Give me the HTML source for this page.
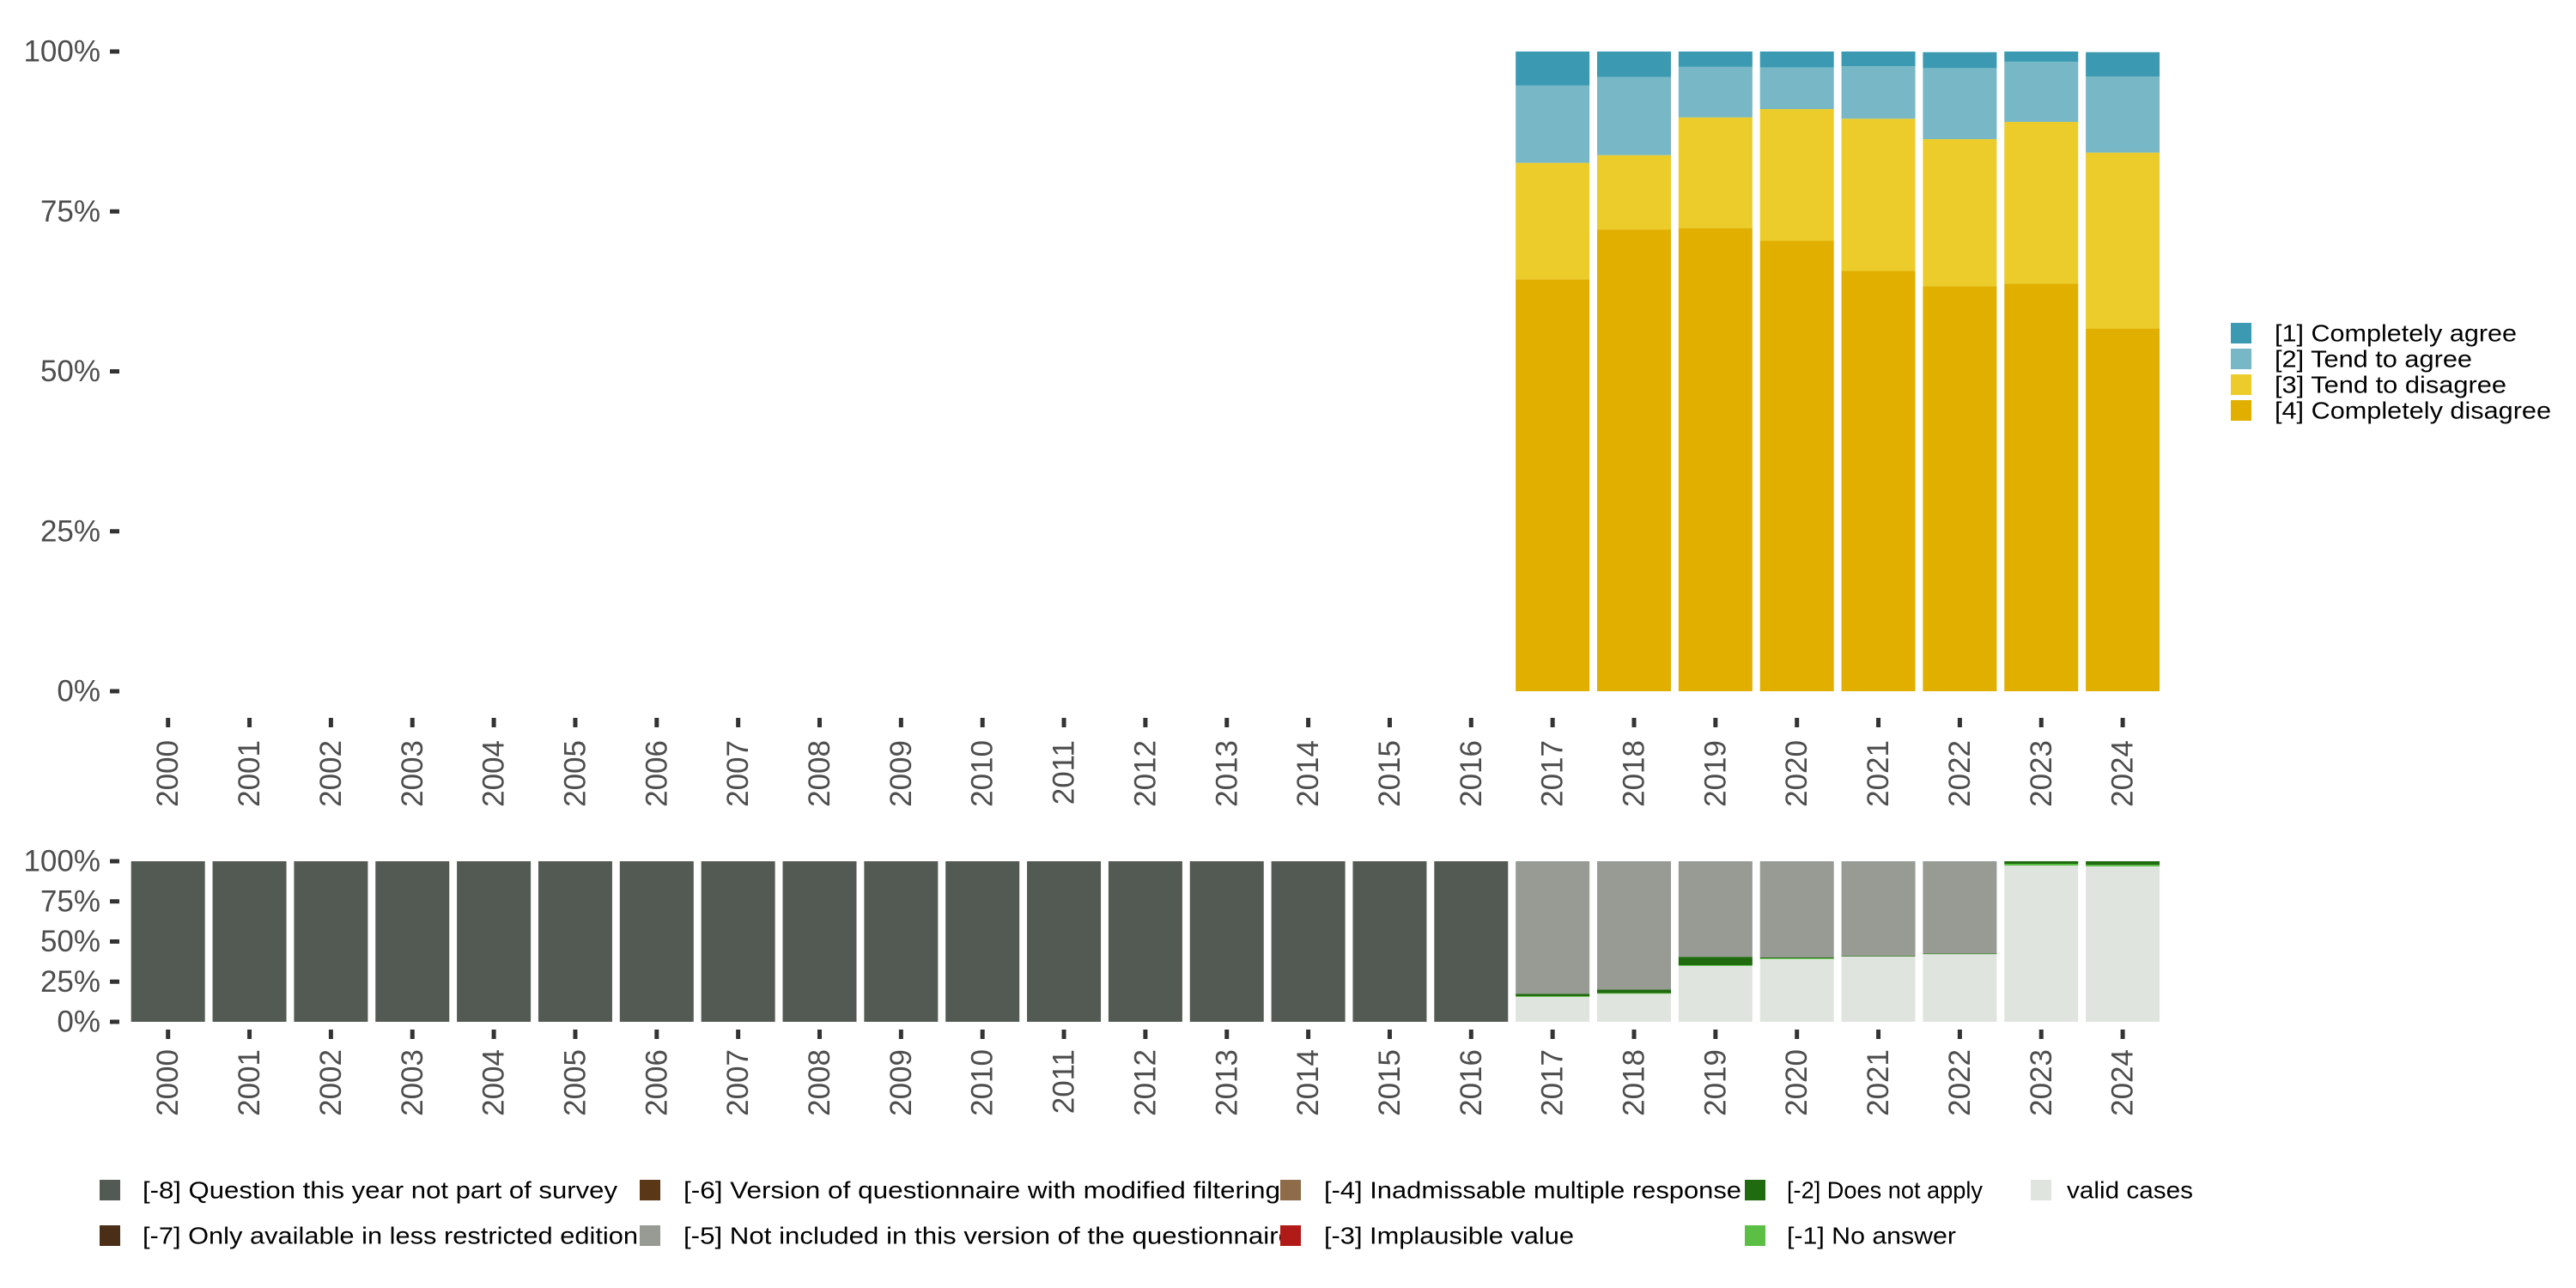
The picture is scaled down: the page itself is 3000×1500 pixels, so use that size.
<!DOCTYPE html>
<html><head><meta charset="utf-8"><style>
html,body{margin:0;padding:0;background:#fff;}
svg{display:block;font-family:"Liberation Sans",sans-serif;}
</style></head><body>
<svg id="chart" width="3000" height="1500" viewBox="0 0 3000 1500" xmlns="http://www.w3.org/2000/svg">
<g id="top"></g>
<g id="bottom"></g>
<g id="legends"></g>
</svg>
<script>
const years = [2000,2001,2002,2003,2004,2005,2006,2007,2008,2009,2010,2011,2012,2013,2014,2015,2016,2017,2018,2019,2020,2021,2022,2023,2024];
const topYears = [2017,2018,2019,2020,2021,2022,2023,2024];
const agree1 = [5.3,4.0,2.4,2.5,2.3,2.5,1.6,3.8];
const agree2 = [12.1,12.2,7.9,6.5,8.2,11.1,9.4,11.9];
const disagree3 = [18.2,11.6,17.3,20.6,23.8,23.0,25.3,27.5];
const disagree4 = [64.4,72.2,72.4,70.4,65.7,63.3,63.7,56.7];
const topLabels = ["[1] Completely agree","[2] Tend to agree","[3] Tend to disagree","[4] Completely disagree"];
const yTickLabels = ["0%","25%","50%","75%","100%"];
const yTickValues = [0,25,50,75,100];
const m8 = [100,100,100,100,100,100,100,100,100,100,100,100,100,100,100,100,100,0,0,0,0,0,0,0,0];
const m5 = [0,0,0,0,0,0,0,0,0,0,0,0,0,0,0,0,0,82.6,79.9,59.5,59.9,58.8,57.4,0,0];
const m2 = [0,0,0,0,0,0,0,0,0,0,0,0,0,0,0,0,0,1.4,2.2,5.2,0.5,0.4,0.4,1.6,2.2];
const m1 = [0,0,0,0,0,0,0,0,0,0,0,0,0,0,0,0,0,0.5,0.4,0.5,0.5,0.1,0.1,1.1,1.0];
const valid = [0,0,0,0,0,0,0,0,0,0,0,0,0,0,0,0,0,15.5,17.5,34.8,39.1,40.7,42.1,97.3,96.8];

const NS="http://www.w3.org/2000/svg";
function mk(parent,tag,attrs,text){const e=document.createElementNS(NS,tag);for(const k in attrs)e.setAttribute(k,attrs[k]);if(text!==undefined)e.textContent=text;parent.appendChild(e);return e;}
const x0=195.7, step=94.85, bw=86;
function xPos(year){return x0+(year-2000)*step;}
function yTop(v){return 805-(v/100)*745;}
function yBot(v){return 1190-(v/100)*187;}

function axes(g,yf,tickTop,labelEnd,name){
  yTickValues.forEach((v,i)=>{
    const t=mk(g,'line',{x1:128,x2:139,y1:yf(v),y2:yf(v),stroke:'#333','stroke-width':5});
    
    
    const l=mk(g,'text',{x:117,y:yf(v),'text-anchor':'end','dominant-baseline':'central','font-size':35,fill:'#4d4d4d'},yTickLabels[i]);
    
    
  });
  years.forEach(yr=>{
    const x=xPos(yr);
    const t=mk(g,'line',{x1:x,x2:x,y1:tickTop,y2:tickTop+11,stroke:'#333','stroke-width':5});
    
    
    const l=mk(g,'text',{transform:`translate(${x},${labelEnd}) rotate(-90)`,'text-anchor':'end','dominant-baseline':'central','font-size':35,fill:'#4d4d4d'},String(yr));
    
    
  });
}

const topG=document.getElementById('top');
const topSeries=[disagree4,disagree3,agree2,agree1];
const topColors=['#e1af00','#ebcc2a','#78b7c5','#3b9ab2'];
const topNames=['bar-completely-disagree','bar-tend-to-disagree','bar-tend-to-agree','bar-completely-agree'];
topYears.forEach((yr,i)=>{
  let cum=0;
  topSeries.forEach((s,k)=>{
    const v=s[i];
    const r=mk(topG,'rect',{x:xPos(yr)-bw/2,y:yTop(cum+v),width:bw,height:yTop(cum)-yTop(cum+v),fill:topColors[k]});
    
    
    cum+=v;
  });
});
axes(topG,yTop,836,862,'top');

const botG=document.getElementById('bottom');
const botSeries=[valid,m1,m2,m5,m8];
const botColors=['#e0e4df','#5bbf45','#206a10','#979b94','#535a53'];
const botNames=['bar-valid','bar-no-answer','bar-does-not-apply','bar-not-included','bar-not-part-of-survey'];
years.forEach((yr,i)=>{
  let cum=0;
  botSeries.forEach((s,k)=>{
    const v=s[i];
    if(v<=0)return;
    const r=mk(botG,'rect',{x:xPos(yr)-bw/2,y:yBot(cum+v),width:bw,height:yBot(cum)-yBot(cum+v),fill:botColors[k]});
    
    
    cum+=v;
  });
});
axes(botG,yBot,1199,1222,'bottom');

const lg=document.getElementById('legends');
const topLegColors=['#3b9ab2','#78b7c5','#ebcc2a','#e1af00'];
const topLegW=[282,230,270,322];
topLabels.forEach((t,i)=>{
  const cy=388+i*30;
  const r=mk(lg,'rect',{x:2598,y:cy-12,width:24,height:24,fill:topLegColors[i]});
  
  
  const tx=mk(lg,'text',{x:2649,y:cy,'dominant-baseline':'central','font-size':28,fill:'#000',textLength:topLegW[i],lengthAdjust:'spacingAndGlyphs'},t);
  
  
});
const botLeg=[
 ["[-8] Question this year not part of survey",'#535a53',116,166,553,1386],
 ["[-7] Only available in less restricted edition",'#4b2e18',116,166,577,1439],
 ["[-6] Version of questionnaire with modified filtering",'#5a3817',745,796,695,1386],
 ["[-5] Not included in this version of the questionnaire",'#979b94',745,796,710,1439],
 ["[-4] Inadmissable multiple response",'#8e6c49',1491,1542,486,1386],
 ["[-3] Implausible value",'#b01b17',1491,1542,291,1439],
 ["[-2] Does not apply",'#206a10',2032,2081,228,1386],
 ["[-1] No answer",'#5bbf45',2032,2081,197,1439],
 ["valid cases",'#e0e4df',2365,2407,147,1386]
];
botLeg.forEach(e=>{
  const r=mk(lg,'rect',{x:e[2],y:e[5]-12,width:24,height:24,fill:e[1]});
  
  
  const tx=mk(lg,'text',{x:e[3],y:e[5],'dominant-baseline':'central','font-size':28,fill:'#000',textLength:e[4],lengthAdjust:'spacingAndGlyphs'},e[0]);
  
  
});
</script>
</body></html>
